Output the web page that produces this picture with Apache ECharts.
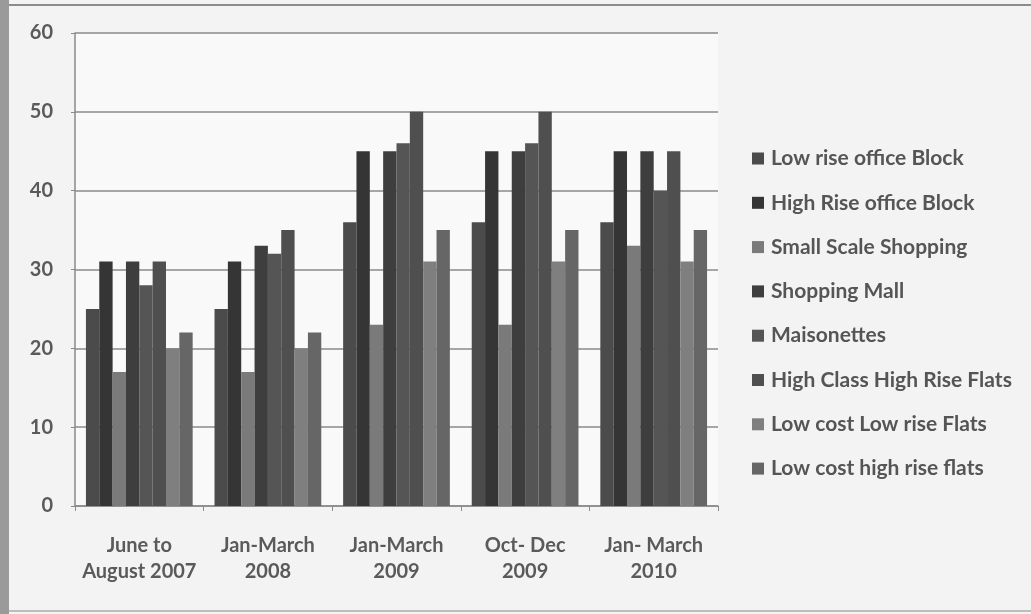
<!DOCTYPE html>
<html>
<head>
<meta charset="utf-8">
<script src="https://cdn.jsdelivr.net/npm/echarts@6/dist/echarts.min.js"></script>
<style>
html,body{margin:0;padding:0;background:#f3f3f3;}
#chart{width:1031px;height:614px;}
</style>
</head>
<body>
<div id="chart"></div>
<script>
var categories = ['June to\nAugust 2007', 'Jan-March\n2008', 'Jan-March\n2009', 'Oct- Dec\n2009', 'Jan- March\n2010'];
var seriesNames = ['Low rise office Block', 'High Rise office Block', 'Small Scale Shopping', 'Shopping Mall', 'Maisonettes', 'High Class High Rise Flats', 'Low cost Low rise Flats', 'Low cost high rise flats'];
var lowRiseOffice   = [25, 25, 36, 36, 36];
var highRiseOffice  = [31, 31, 45, 45, 45];
var smallShopping   = [17, 17, 23, 23, 33];
var shoppingMall    = [31, 33, 45, 45, 45];
var maisonettes     = [28, 32, 46, 46, 40];
var highClassFlats  = [31, 35, 50, 50, 45];
var lowCostLowRise  = [20, 20, 31, 31, 31];
var lowCostHighRise = [22, 22, 35, 35, 35];
var yTicks = [0, 10, 20, 30, 40, 50, 60];

var values = [lowRiseOffice, highRiseOffice, smallShopping, shoppingMall, maisonettes, highClassFlats, lowCostLowRise, lowCostHighRise];
var colors = ['#4b4b4b', '#353535', '#7a7a7a', '#3e3e3e', '#555555', '#4f4f4f', '#7f7f7f', '#666666'];

var chart = echarts.init(document.getElementById('chart'));
var series = seriesNames.map(function (n, i) {
  return {
    name: n,
    type: 'bar',
    data: values[i],
    barGap: '0%',
    barCategoryGap: '17%',
    itemStyle: { color: colors[i] }
  };
});

chart.setOption({
  backgroundColor: '#f3f3f3',
  animation: false,
  color: colors,
  graphic: [
    { type: 'rect', left: 0, top: 0, shape: { width: 9, height: 614 }, style: { fill: '#9a9a9a' } },
    { type: 'rect', left: 9, top: 4, shape: { width: 1022, height: 2 }, style: { fill: '#8c8c8c' } },
    { type: 'rect', left: 9, top: 610, shape: { width: 1022, height: 2 }, style: { fill: '#bdbdbd' } }
  ],
  grid: { left: 75, right: 313, top: 33, bottom: 108, show: true, backgroundColor: '#f9f9f9', borderWidth: 0 },
  legend: {
    orient: 'vertical',
    left: 752,
    top: 148,
    padding: 0,
    itemWidth: 12,
    itemHeight: 12,
    itemGap: 23.3,
    icon: 'rect',
    textStyle: { fontFamily: 'Lato', fontSize: 21, fontWeight: 'bold', color: '#555555', lineHeight: 20, padding: [0, 0, 0, 2] },
    data: seriesNames
  },
  xAxis: {
    type: 'category',
    data: categories,
    axisLine: { lineStyle: { color: '#8a8a8a', width: 1.5 } },
    axisTick: { show: true, length: 5, lineStyle: { color: '#8a8a8a' } },
    axisLabel: { interval: 0, hideOverlap: false, fontFamily: 'Lato', fontSize: 20, fontWeight: 'bold', color: '#5a5a5a', lineHeight: 26, margin: 27 }
  },
  yAxis: {
    type: 'value',
    min: yTicks[0],
    max: yTicks[yTicks.length - 1],
    interval: 10,
    axisLine: { show: true, lineStyle: { color: '#8a8a8a', width: 1.5 } },
    axisTick: { show: true, length: 4, lineStyle: { color: '#8a8a8a' } },
    splitLine: { lineStyle: { color: '#8a8a8a', width: 1.5 } },
    axisLabel: { fontFamily: 'Lato', fontSize: 20, fontWeight: 'bold', color: '#5a5a5a', margin: 22 }
  },
  series: series
});
</script>
</body>
</html>
